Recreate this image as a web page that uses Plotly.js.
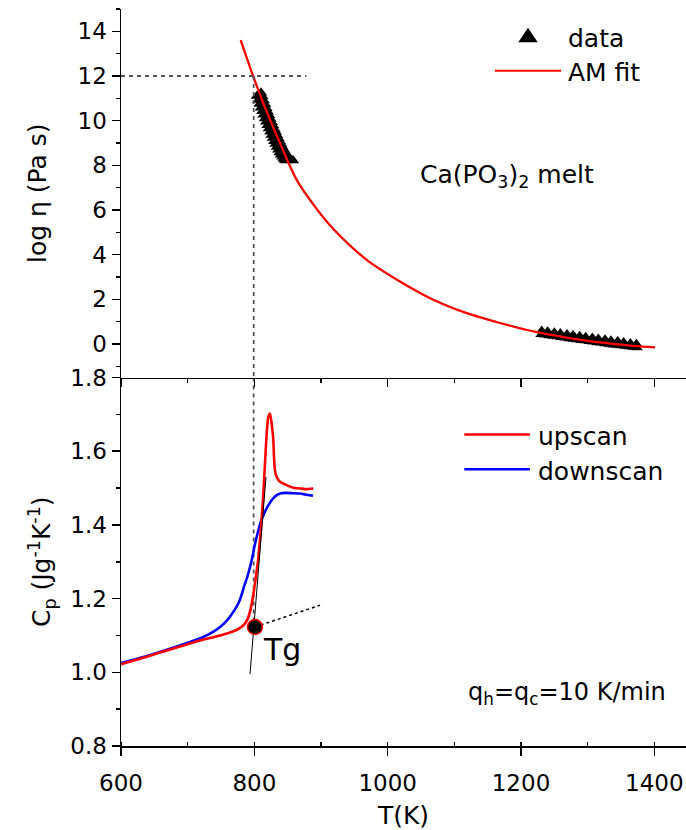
<!DOCTYPE html>
<html>
<head>
<meta charset="utf-8">
<script src="https://cdn.plot.ly/plotly-3.0.1.min.js"></script>
<style>
  html, body { margin: 0; padding: 0; background: #fff; overflow: hidden; }
  #chart { width: 686px; height: 830px; }
</style>
</head>
<body>
<div id="chart"></div>
<script>
// ---- Viscosity of the Ca(PO3)2 melt (upper panel) ----
// measured log(eta) near the glass transition, two overlapping runs
const viscLowT_a   = [804, 806, 808, 810, 812, 814, 816, 818, 820, 822, 824, 826, 828, 830, 832, 834, 836, 838, 840, 842, 844, 846, 848];
const viscLowEta_a = [11.10, 10.92, 10.75, 10.58, 10.42, 10.26, 10.10, 9.95, 9.80, 9.65, 9.50, 9.36, 9.22, 9.08, 8.95, 8.82, 8.70, 8.58, 8.47, 8.38, 8.30, 8.24, 8.22];
const viscLowT_b   = [810, 812, 814, 816, 818, 820, 822, 824, 826, 828, 830, 832, 834, 836, 838, 840, 842, 844, 846, 848, 850, 852, 854, 856, 858];
const viscLowEta_b = [11.25, 11.08, 10.90, 10.73, 10.56, 10.40, 10.24, 10.08, 9.93, 9.78, 9.63, 9.49, 9.35, 9.21, 9.08, 8.95, 8.83, 8.71, 8.60, 8.50, 8.41, 8.33, 8.27, 8.23, 8.22];
// measured log(eta) in the high temperature melt
const viscHighT_a   = [1231, 1240, 1250, 1259, 1269, 1278, 1288, 1297, 1307, 1316, 1326, 1335, 1345, 1354, 1364, 1373];
const viscHighEta_a = [0.61, 0.57, 0.53, 0.49, 0.45, 0.41, 0.37, 0.33, 0.29, 0.25, 0.21, 0.17, 0.13, 0.09, 0.05, 0.01];
const viscHighT_b   = [1230, 1236, 1242, 1248, 1254, 1260, 1266, 1272, 1278, 1284, 1290, 1296, 1302, 1308, 1314, 1320, 1326, 1332, 1338, 1344, 1350, 1356, 1362, 1368, 1374];
const viscHighEta_b = [0.43, 0.40, 0.37, 0.35, 0.32, 0.29, 0.27, 0.24, 0.21, 0.19, 0.16, 0.14, 0.11, 0.09, 0.06, 0.04, 0.01, -0.01, -0.04, -0.06, -0.08, -0.10, -0.12, -0.15, -0.17];
// Avramov-Milchev fit curve
const fitT   = [779.5, 789, 798.5, 813.5, 838.5, 863.5, 893.5, 918.5, 968.5, 1018.5, 1068.5, 1118.5, 1168.5, 1218.5, 1268.5, 1318.5, 1368.5, 1401];
const fitEta = [13.61, 12.78, 11.97, 10.78, 8.99, 7.35, 6.05, 5.15, 3.77, 2.80, 1.98, 1.38, 0.94, 0.56, 0.29, 0.07, -0.08, -0.15];

// ---- Heat capacity scans at 10 K/min (lower panel) ----
const upT  = [600, 640, 670, 700, 720, 740, 760, 770, 778, 785, 790, 794, 798, 802, 806, 810, 813, 816, 818.5, 821, 823.5, 826, 828.5, 829.5, 831, 833.5, 838.5, 848.5, 858.5, 868.5, 878, 888.5];
const upCp = [1.022, 1.043, 1.060, 1.076, 1.087, 1.096, 1.106, 1.112, 1.120, 1.130, 1.145, 1.168, 1.205, 1.255, 1.310, 1.390, 1.470, 1.567, 1.648, 1.693, 1.702, 1.675, 1.630, 1.584, 1.548, 1.530, 1.517, 1.508, 1.501, 1.499, 1.497, 1.499];
const downT  = [600, 640, 670, 700, 720, 740, 750, 760, 770, 778, 785, 790, 796, 800, 805, 810, 815, 820, 826, 833, 840, 848, 858, 868, 878, 888];
const downCp = [1.025, 1.045, 1.062, 1.080, 1.093, 1.112, 1.125, 1.143, 1.168, 1.195, 1.235, 1.262, 1.304, 1.340, 1.378, 1.410, 1.432, 1.450, 1.467, 1.480, 1.486, 1.487, 1.486, 1.485, 1.482, 1.479];

// Tg construction: steep tangent, glass baseline extension, onset point
const tangentT  = [793.5, 817.5];
const tangentCp = [0.995, 1.530];
const baseT  = [801, 898.5];
const baseCp = [1.123, 1.182];
const tgT  = [801];
const tgCp = [1.123];
// guide lines: log(eta) = 12 at Tg
const guideEta = 12;
const guideTg  = 799;
const guideTEnd = 878;

// tick values
const xTicks = [600, 800, 1000, 1200, 1400];
const etaTicks = [0, 2, 4, 6, 8, 10, 12, 14];
const cpTicks = [0.8, 1.0, 1.2, 1.4, 1.6, 1.8];

const FONT = 'DejaVu Sans, Verdana, sans-serif';
const XR = [600, 1447.5];

// pixel helpers for legend decorations (plot area 121..686 x 9..745.7)
const PL = 121, PR = 686, PT = 9, PB = 745.7;
const px = x => (x - PL) / (PR - PL);
const py = y => (PB - y) / (PB - PT);

const dashLine = {color: '#555', width: 1.8, dash: '4px,4px'};
const tri = {symbol: 'triangle-up', size: 11, color: '#000'};

const traces = [
  {x: viscLowT_a, y: viscLowEta_a, xaxis: 'x2', yaxis: 'y2', mode: 'markers', marker: tri, showlegend: false},
  {x: viscLowT_b, y: viscLowEta_b, xaxis: 'x2', yaxis: 'y2', mode: 'markers', marker: tri, showlegend: false},
  {x: viscHighT_b, y: viscHighEta_b, xaxis: 'x2', yaxis: 'y2', mode: 'markers',
   marker: {symbol: 'triangle-up', size: 10, color: '#000'}, showlegend: false},
  {x: viscHighT_a, y: viscHighEta_a, xaxis: 'x2', yaxis: 'y2', mode: 'markers',
   marker: {symbol: 'triangle-up', size: 10, color: '#000'}, showlegend: false},
  {x: fitT, y: fitEta, xaxis: 'x2', yaxis: 'y2', mode: 'lines',
   line: {color: '#ff0000', width: 2.3, shape: 'spline', smoothing: 0.8}, showlegend: false},
  // guide lines in the upper panel
  {x: [XR[0], guideTEnd], y: [guideEta, guideEta], xaxis: 'x2', yaxis: 'y2', mode: 'lines',
   line: dashLine, showlegend: false, hoverinfo: 'skip'},
  {x: [guideTg, guideTg], y: [guideEta, -1.5], xaxis: 'x2', yaxis: 'y2', mode: 'lines',
   line: dashLine, showlegend: false, hoverinfo: 'skip'},
  // guide line continued in the lower panel
  {x: [guideTg, guideTg], y: [1.8, tgCp[0]], xaxis: 'x', yaxis: 'y', mode: 'lines',
   line: dashLine, showlegend: false, hoverinfo: 'skip'},
  {x: baseT, y: baseCp, xaxis: 'x', yaxis: 'y', mode: 'lines',
   line: {color: '#000', width: 1.5, dash: 'dot'}, showlegend: false},
  {x: downT, y: downCp, xaxis: 'x', yaxis: 'y', mode: 'lines',
   line: {color: '#0000ff', width: 2.6, shape: 'spline', smoothing: 0.5}, showlegend: false},
  {x: upT, y: upCp, xaxis: 'x', yaxis: 'y', mode: 'lines',
   line: {color: '#ff0000', width: 2.6, shape: 'spline', smoothing: 0.5}, showlegend: false},
  {x: tangentT, y: tangentCp, xaxis: 'x', yaxis: 'y', mode: 'lines',
   line: {color: '#000', width: 1}, showlegend: false},
  {x: tgT, y: tgCp, xaxis: 'x', yaxis: 'y', mode: 'markers',
   marker: {symbol: 'circle', size: 15, color: '#000', line: {color: '#ff0000', width: 1.5}}, showlegend: false}
];

const tickFont = {family: FONT, size: 23, color: '#000'};
const baseX = {
  range: XR, showgrid: false, zeroline: false, showline: true, linecolor: '#000', linewidth: 1.5,
  tickmode: 'array', tickvals: xTicks, tickcolor: '#000', tickwidth: 1.5, tickfont: tickFont
};

const layout = {
  width: 686, height: 830,
  margin: {l: PL, r: 0, t: PT, b: 830 - PB},
  paper_bgcolor: '#fff', plot_bgcolor: '#fff',
  font: {family: FONT, color: '#000'},
  showlegend: false,
  xaxis: Object.assign({}, baseX, {
    anchor: 'y', domain: [0, 1], ticks: 'outside', ticklen: 8, ticklabelstandoff: 8,
    minor: {ticks: 'inside', ticklen: 4, dtick: 100, tick0: 600, tickwidth: 1.5, tickcolor: '#000'},
    title: {text: 'T(K)', font: {family: FONT, size: 25}, standoff: 12}
  }),
  xaxis2: Object.assign({}, baseX, {
    anchor: 'y2', domain: [0, 1], ticks: 'outside', ticklen: 8, showticklabels: false,
    minor: {ticks: 'outside', ticklen: 4, dtick: 100, tick0: 600, tickwidth: 1.5, tickcolor: '#000'}
  }),
  xaxis3: Object.assign({}, baseX, {
    overlaying: 'x2', anchor: 'y2', side: 'top', ticks: 'inside', ticklen: 4, showticklabels: false,
    minor: {ticks: 'inside', ticklen: 4, dtick: 100, tick0: 600, tickwidth: 1.5, tickcolor: '#000'}
  }),
  yaxis: {
    anchor: 'x', domain: [0, 0.5], range: [0.8, 1.8], showgrid: false, zeroline: false,
    showline: true, linecolor: '#000', linewidth: 1.5,
    tickmode: 'array', tickvals: cpTicks, tickformat: '.1f', ticks: 'outside', ticklen: 8,
    tickcolor: '#000', tickwidth: 1.5, tickfont: tickFont,
    minor: {ticks: 'outside', ticklen: 4, dtick: 0.1, tick0: 0.8, tickwidth: 1.5, tickcolor: '#000'},
    title: {text: 'C<sub>p</sub> (Jg<sup>-1</sup>K<sup>-1</sup>)', font: {family: FONT, size: 25}, standoff: 12}
  },
  yaxis2: {
    anchor: 'x2', domain: [0.5, 1], range: [-1.5, 15], showgrid: false, zeroline: false,
    showline: true, linecolor: '#000', linewidth: 1.5,
    tickmode: 'array', tickvals: etaTicks, ticks: 'outside', ticklen: 8,
    tickcolor: '#000', tickwidth: 1.5, tickfont: tickFont,
    minor: {ticks: 'outside', ticklen: 4, dtick: 1, tick0: 0, tickwidth: 1.5, tickcolor: '#000'},
    title: {text: 'log η (Pa s)', font: {family: FONT, size: 25}, standoff: 24}
  },
  shapes: [
    // legend symbols
    {type: 'path', xref: 'paper', yref: 'paper',
     path: `M ${px(518.3)} ${py(42.3)} L ${px(537.7)} ${py(42.3)} L ${px(528)} ${py(27.7)} Z`,
     fillcolor: '#000', line: {width: 0}},
    {type: 'line', xref: 'paper', yref: 'paper', x0: px(495), x1: px(561), y0: py(70.7), y1: py(70.7),
     line: {color: '#ff0000', width: 2.2}},
    {type: 'line', xref: 'paper', yref: 'paper', x0: px(464.3), x1: px(530), y0: py(434.3), y1: py(434.3),
     line: {color: '#ff0000', width: 2.6}},
    {type: 'line', xref: 'paper', yref: 'paper', x0: px(464.3), x1: px(530), y0: py(469), y1: py(469),
     line: {color: '#0000ff', width: 2.6}}
  ],
  annotations: [
    {text: 'data', xref: 'paper', yref: 'paper', x: px(566), y: py(38), xanchor: 'left', yanchor: 'middle',
     showarrow: false, font: {family: FONT, size: 25}},
    {text: 'AM fit', xref: 'paper', yref: 'paper', x: px(566), y: py(72.3), xanchor: 'left', yanchor: 'middle',
     showarrow: false, font: {family: FONT, size: 25}},
    {text: 'Ca(PO<sub>3</sub>)<sub>2</sub> melt', xref: 'paper', yref: 'paper', x: px(418), y: py(176),
     xanchor: 'left', yanchor: 'middle', showarrow: false, font: {family: FONT, size: 25}},
    {text: 'upscan', xref: 'paper', yref: 'paper', x: px(536), y: py(436.3), xanchor: 'left', yanchor: 'middle',
     showarrow: false, font: {family: FONT, size: 25}},
    {text: 'downscan', xref: 'paper', yref: 'paper', x: px(536), y: py(471.3), xanchor: 'left', yanchor: 'middle',
     showarrow: false, font: {family: FONT, size: 25}},
    {text: 'Tg', xref: 'paper', yref: 'paper', x: px(260.5), y: py(649.5), xanchor: 'left', yanchor: 'middle',
     showarrow: false, font: {family: FONT, size: 30}},
    {text: 'q<sub>h</sub>=q<sub>c</sub>=10 K/min', xref: 'paper', yref: 'paper', x: px(465.5), y: py(693),
     xanchor: 'left', yanchor: 'middle', showarrow: false, font: {family: FONT, size: 24}}
  ]
};

Plotly.newPlot('chart', traces, layout, {staticPlot: true, displayModeBar: false});
</script>
</body>
</html>
